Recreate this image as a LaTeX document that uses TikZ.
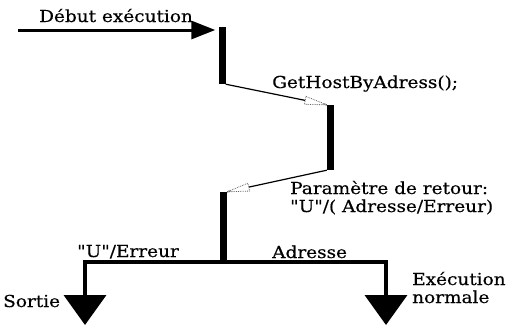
\documentclass[tikz,border=0pt]{standalone}
\usepackage{fontspec}
\newfontfamily\labelfont{DejaVu Serif}[FakeStretch=1.12, FakeBold=0.4]
\usetikzlibrary{arrows.meta}
\usetikzlibrary{decorations.markings}

\begin{document}
\begin{tikzpicture}[
  x=1pt, y=-1pt,
  bar/.style={
    draw=none,
    fill=black,
    minimum width=7pt,
    inner sep=0pt
  },
  lbl/.style={
    inner sep=0pt,
    anchor=base west,
    font=\labelfont\fontsize{16.5}{18}\selectfont
  },
  call/.style={
    line width=1.2pt,
    postaction={decorate},
    decoration={markings, mark=at position 1 with {
      \draw[densely dotted, line width=0.8pt, fill=white, draw=black!60]
        (0,0) -- (-22pt,4pt) -- (-22pt,-4pt) -- cycle;}}
  },
  start/.style={
    line width=3pt,
    shorten >=3pt,
    -{Triangle[length=24pt,width=18pt]}
  },
  flow/.style={
    line width=4pt,
    -{Triangle[length=30pt,width=42pt]}
  }
]
\useasboundingbox (0,0) rectangle (509,335);

% Execution bars
\node[bar, minimum height=57pt] (bar1) at (222,55.5) {};
\node[bar, minimum height=65pt] (bar2) at (330.5,137.5) {};
\node[bar, minimum height=70pt] (bar3) at (223.5,227) {};

% Entry and exits
\coordinate (entry) at (18,30);
\coordinate (sortie) at (85,325);
\coordinate (normal) at (386,325);

\draw[start] (entry) -- (entry -| bar1.west);
\draw[call] (bar1.south east) -- (bar2.north west);
\draw[call] (bar2.south west) -- (bar3.north east);
\draw[flow] (bar3.south) -| (sortie);
\draw[flow] (bar3.south) -| (normal);

% Labels
\node[lbl] (debut) at (39,22) {Début exécution};
\node[lbl] (gethost) at (272,88) {GetHostByAdress();};
\node[lbl] (retour1) at (290,194) {Paramètre de retour:};
\node[lbl] (retour2) at (290,212) {"U"/( Adresse/Erreur)};
\node[lbl] (erreur) at (77,257) {"U"/Erreur};
\node[lbl] (adresse) at (272,258) {Adresse};
\node[lbl] (sortielbl) at (3,307) {Sortie};
\node[lbl] (exec1) at (412,285) {Exécution};
\node[lbl] (exec2) at (412,303) {normale};
\end{tikzpicture}
\end{document}
